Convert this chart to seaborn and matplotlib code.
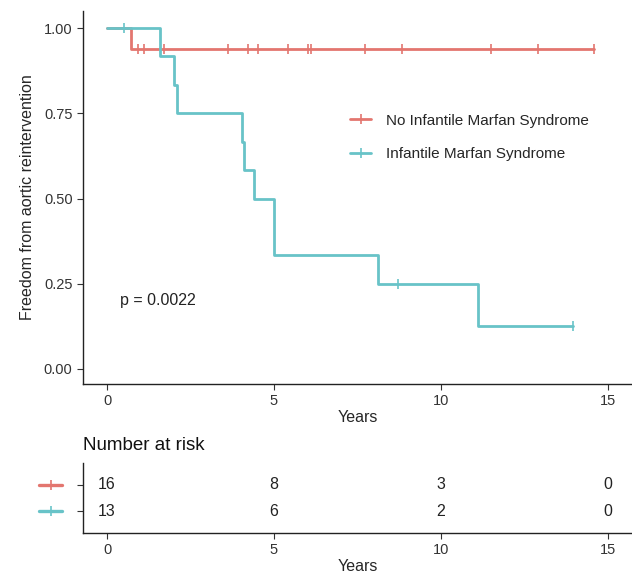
import numpy as np
import pandas as pd
import matplotlib
matplotlib.use("Agg")
import matplotlib.pyplot as plt
import seaborn as sns

# ------------------------------
# Data
# ------------------------------
groups = ["No Infantile Marfan Syndrome", "Infantile Marfan Syndrome"]

# survival steps (time, value after the step)
no_ims_time = [0, 0.71, 14.58]
no_ims_surv = [1.0, 0.9375, 0.9375]
ims_time = [0, 1.60, 2.00, 2.10, 4.03, 4.11, 4.41, 5.01, 8.12, 11.11, 13.94]
ims_surv = [1.0, 0.9167, 0.8333, 0.75, 0.6667, 0.5833, 0.5, 0.3333, 0.25, 0.125, 0.125]

# censor marks
no_ims_cens = [0.92, 1.10, 1.71, 3.61, 4.21, 4.51, 5.41, 6.03, 6.10, 7.72,
               8.82, 11.51, 12.91, 14.58]
ims_cens = [0.51, 8.72, 13.94]

# number at risk table
risk_years = [0, 5, 10, 15]
risk_no_ims = [16, 8, 3, 0]
risk_ims = [13, 6, 2, 0]

p_text = "p = 0.0022"

colors = ["#E3766F", "#68C3C8"]
palette = dict(zip(groups, colors))

# ------------------------------
# Build tidy frames
# ------------------------------
curves = pd.concat([
    pd.DataFrame({"time": no_ims_time, "surv": no_ims_surv, "group": groups[0]}),
    pd.DataFrame({"time": ims_time, "surv": ims_surv, "group": groups[1]}),
], ignore_index=True)


def surv_at(times, survs, t):
    idx = np.searchsorted(times, t, side="right") - 1
    return np.array(survs)[idx]


cens = pd.concat([
    pd.DataFrame({"time": no_ims_cens,
                  "surv": surv_at(no_ims_time, no_ims_surv, no_ims_cens),
                  "group": groups[0]}),
    pd.DataFrame({"time": ims_cens,
                  "surv": surv_at(ims_time, ims_surv, ims_cens),
                  "group": groups[1]}),
], ignore_index=True)

# ------------------------------
# Plot
# ------------------------------
sns.set_style("ticks")
plt.rcParams["font.family"] = ["Liberation Sans", "DejaVu Sans"]

W, H = 632, 573
fig = plt.figure(figsize=(W / 100, H / 100), dpi=100)
ax = fig.add_axes([83 / W, 1 - 384 / H, (632 - 83) / W, (384 - 11) / H])

sns.lineplot(data=curves, x="time", y="surv", hue="group", palette=palette,
             drawstyle="steps-post", estimator=None, linewidth=2.0, ax=ax,
             legend=False)
for g in groups:
    sub = cens[cens.group == g]
    ax.plot(sub.time, sub.surv, linestyle="none", marker="|", markersize=7,
            markeredgewidth=1.2, color=palette[g])

xlim = (-0.72, 15.72)
ax.set_xlim(*xlim)
ax.set_ylim(-0.044, 1.05)
ax.set_xticks(risk_years)
ax.set_yticks([0, 0.25, 0.5, 0.75, 1.0])
ax.set_yticklabels(["0.00", "0.25", "0.50", "0.75", "1.00"])
ax.tick_params(labelsize=10.5, length=4, width=0.8, color="#333333",
               labelcolor="#333333")
ax.set_xlabel("Years", fontsize=11.5, labelpad=1)
ax.set_ylabel("Freedom from aortic reintervention", fontsize=11.5, labelpad=6)
for s in ["left", "bottom"]:
    ax.spines[s].set_color("#222222")
    ax.spines[s].set_linewidth(1.0)
sns.despine(ax=ax)

ax.text(0.4, 0.2, p_text, fontsize=11.5, va="center", ha="left", color="#222222")

handles = [plt.Line2D([], [], color=c, linewidth=2.0, marker="|", markersize=7,
                      markeredgewidth=1.2) for c in colors]
ax.legend(handles, groups, loc="center left", bbox_to_anchor=(0.486, 0.661),
          frameon=False, fontsize=11, handlelength=1.4, handletextpad=1.0,
          labelspacing=1.3, borderpad=0, borderaxespad=0)

# ------------------------------
# Number at risk table
# ------------------------------
ax2 = fig.add_axes([83 / W, 1 - 533 / H, (632 - 83) / W, (533 - 463) / H])
for yv, vals in zip([2, 1], [risk_no_ims, risk_ims]):
    for x, v in zip(risk_years, vals):
        ax2.text(x, yv, str(v), ha="center", va="center", fontsize=11.5,
                 color="#222222")
ax2.set_xlim(*xlim)
ax2.set_ylim(0.154, 2.846)
ax2.set_xticks(risk_years)
ax2.set_yticks([1, 2])
ax2.set_yticklabels(["", ""])
ax2.tick_params(labelsize=10.5, length=4, width=0.8, color="#333333",
                labelcolor="#333333")
ax2.set_xlabel("Years", fontsize=11.5, labelpad=1)
for s in ["left", "bottom"]:
    ax2.spines[s].set_color("#222222")
    ax2.spines[s].set_linewidth(1.0)
sns.despine(ax=ax2)

# coloured keys left of the table rows
trans = matplotlib.transforms.blended_transform_factory(ax2.transAxes, ax2.transData)
for yv, c in zip([2, 1], colors):
    ax2.plot([-0.08, -0.038], [yv, yv], color=c, linewidth=2.4,
             transform=trans, clip_on=False)
    ax2.plot([-0.059], [yv], marker="|", markersize=7, markeredgewidth=1.2,
             color=c, transform=trans, clip_on=False)

fig.text(83 / W, 1 - 446 / H, "Number at risk", fontsize=13.5, va="center",
         ha="left", color="#111111")

fig.savefig("out.png", dpi=100)
